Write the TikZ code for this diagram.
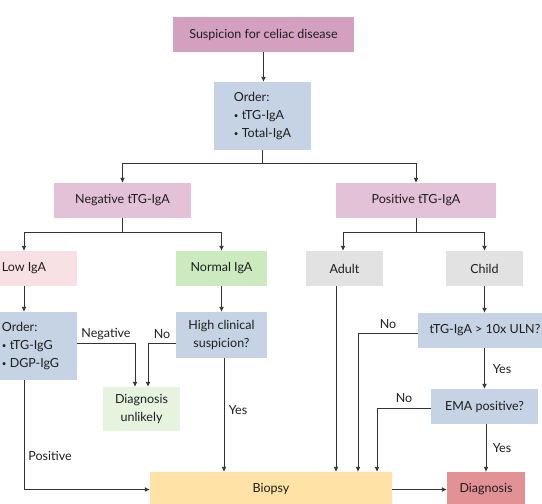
\documentclass[tikz,border=0pt]{standalone}
\usepackage{fontspec}
\setmainfont{Lato}
\usetikzlibrary{arrows.meta}

\definecolor{suspcol}{HTML}{D3A0BF}
\definecolor{ordercol}{HTML}{C5D3E5}
\definecolor{resultcol}{HTML}{E3C2D8}
\definecolor{lowcol}{HTML}{F8E1E4}
\definecolor{normcol}{HTML}{CBEABF}
\definecolor{agecol}{HTML}{E2E2E2}
\definecolor{unlikelycol}{HTML}{E6F4DF}
\definecolor{biopsycol}{HTML}{FFE3A6}
\definecolor{diagcol}{HTML}{E29294}
\definecolor{inkcol}{HTML}{1E1E1E}
\definecolor{linecol}{HTML}{333333}

\newcommand{\itemdot}{\raisebox{1.4pt}{\fontsize{8}{8}\selectfont\textbullet}\ }

\begin{document}
\begin{tikzpicture}[x=1pt, y=-1pt,
    box/.style={draw=none, minimum height=35pt, inner sep=0pt, text=inkcol,
        font=\fontsize{12.5}{18}\selectfont},
    conn/.style={draw=linecol, line width=0.9pt},
    arr/.style={conn, -{Latex[length=5pt,width=5pt]}},
    lbl/.style={text=inkcol, font=\fontsize{12.5}{14}\selectfont}]
    \useasboundingbox (0,0) rectangle (542,504);
    \clip (0,0) rectangle (542,504);

    % Define the boxes
    \node[box, fill=suspcol, minimum width=181pt] (susp) at (263.5,34.5) {Suspicion for celiac disease};
    \node[box, fill=ordercol, minimum width=97pt, minimum height=68pt, align=left] (order) at (262.5,116)
        {Order:\\\itemdot tTG-IgA\\\itemdot Total-IgA};
    \node[box, fill=resultcol, minimum width=137pt] (neg) at (122.5,200.5) {Negative tTG-IgA};
    \node[box, fill=resultcol, minimum width=160pt] (pos) at (416,200.5) {Positive tTG-IgA};
    \node[box, fill=lowcol, minimum width=106pt] (lowiga) at (24,268.5) {Low IgA};
    \node[box, fill=normcol, minimum width=91pt] (normiga) at (221.5,268.5) {Normal IgA};
    \node[box, fill=agecol, minimum width=77pt] (adult) at (344.5,268.5) {Adult};
    \node[box, fill=agecol, minimum width=77pt] (child) at (484.5,268.5) {Child};
    \node[box, fill=ordercol, minimum width=93pt, minimum height=68pt, align=left] (order2) at (30.5,346)
        {Order:\\\itemdot tTG-IgG\\\itemdot DGP-IgG};
    \node[box, fill=ordercol, minimum width=91pt, minimum height=46pt, align=center] (highsusp) at (221.5,335)
        {High clinical\\suspicion?};
    \node[box, fill=unlikelycol, minimum width=77pt, minimum height=44pt, align=center] (unlikely) at (141.5,409)
        {Diagnosis\\unlikely};
    \node[box, fill=ordercol, minimum width=134pt] (ttg) at (485,330.5) {tTG-IgA > 10x ULN?};
    \node[box, fill=ordercol, minimum width=107pt] (ema) at (484.5,406.5) {EMA positive?};
    \node[box, fill=biopsycol, minimum width=242pt] (biopsy) at (271,489.5) {Biopsy};
    \node[box, fill=diagcol, minimum width=78pt] (diag) at (486,489.5) {Diagnosis};

    % Draw the connectors of the upper part
    \draw[arr] (susp.south) -- (susp.south |- order.north);
    \draw[arr] (order.south) -- ++(0,13) -| (neg.north);
    \draw[arr] (order.south) -- ++(0,13) -| (pos.north);
    \draw[arr] (neg.south) -- ++(0,14) -| (lowiga.north);
    \draw[arr] (neg.south) -- ++(0,14) -| (normiga.north);
    \draw[arr] (pos.south) -- ++(0,14) -| ([xshift=-1.5pt]adult.north);
    \draw[arr] (pos.south) -- ++(0,14) -| (child.north);

    % Draw the connectors of the negative branch
    \draw[arr] (lowiga.south) -- (lowiga.south |- order2.north);
    \draw[arr] (normiga.south) -- (normiga.south |- highsusp.north);
    \draw[arr] ([yshift=3pt]order2.east) -| ([xshift=-6.5pt]unlikely.north);
    \draw[arr] ([yshift=-8pt]highsusp.west) -| ([xshift=6.5pt]unlikely.north);
    \draw[arr] ([xshift=2.5pt]highsusp.south) -- ([xshift=2.5pt]highsusp.south |- biopsy.north);
    \draw[arr] ([xshift=-6.5pt]order2.south) |- (biopsy.west);

    % Draw the connectors of the positive branch
    \draw[arr] ([xshift=-8.5pt]adult.south) -- ([xshift=-8.5pt]adult.south |- biopsy.north);
    \draw[arr] (child.south) -- (child.south |- ttg.north);
    \draw[arr] ([yshift=-2.5pt]ttg.west) -| (358,0 |- biopsy.north);
    \draw[arr] (ema.north |- ttg.south) -- (ema.north);
    \draw[arr] ([yshift=-1.5pt]ema.west) -| (377,0 |- biopsy.north);
    \draw[arr] (diag.north |- ema.south) -- (diag.north);
    \draw[arr] (biopsy.east) -- (diag.west);

    % Place the labels of the connectors
    \node[lbl] (lneg) at (106,334) {Negative};
    \node[lbl] (lno1) at (162,334) {No};
    \node[lbl] (lyes1) at (238,410) {Yes};
    \node[lbl] (lpos) at (50,456) {Positive};
    \node[lbl] (lno2) at (388,324) {No};
    \node[lbl] (lyes2) at (502,369) {Yes};
    \node[lbl] (lno3) at (404,398) {No};
    \node[lbl] (lyes3) at (502,448) {Yes};
\end{tikzpicture}
\end{document}
